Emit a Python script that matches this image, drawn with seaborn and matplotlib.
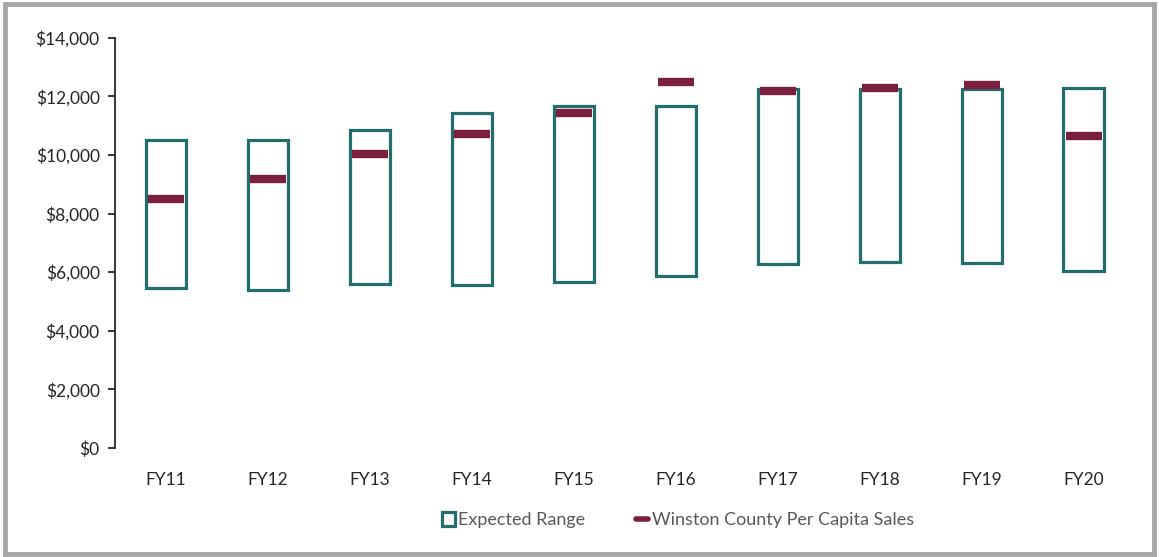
import seaborn as sns
import matplotlib.pyplot as plt
import pandas as pd
from matplotlib.patches import Patch, Rectangle
from matplotlib.lines import Line2D
from matplotlib.ticker import FuncFormatter

years = ["FY11", "FY12", "FY13", "FY14", "FY15", "FY16", "FY17", "FY18", "FY19", "FY20"]
range_low = [5450, 5390, 5590, 5560, 5670, 5880, 6280, 6350, 6300, 6050]
range_high = [10510, 10510, 10850, 11430, 11670, 11680, 12240, 12260, 12260, 12280]
county_sales = [8490, 9180, 10020, 10720, 11430, 12480, 12180, 12280, 12380, 10650]

teal = "#236d6d"
maroon = "#7a1f3d"
grey_text = "#595959"

df = pd.DataFrame({
    "year": years,
    "low": range_low,
    "span": [h - l for h, l in zip(range_high, range_low)],
    "sales": county_sales,
})

sns.set_style("white")
plt.rcParams["font.family"] = ["Lato", "DejaVu Sans"]

fig = plt.figure(figsize=(11.59, 5.57), dpi=100)
ax = fig.add_axes([0.0992, 0.196, 0.8800, 0.736])

sns.barplot(data=df, x="year", y="span", bottom=df["low"], width=0.4,
            color="white", edgecolor=teal, linewidth=2.3, ax=ax)
sns.scatterplot(data=df, x="year", y="sales", marker="_", s=650,
                linewidth=6, color=maroon, ax=ax, zorder=5, legend=False)

ax.set_xlim(-0.5, len(years) - 0.5)
ax.set_ylim(0, 14000)
ax.set_yticks(range(0, 14001, 2000))
ax.yaxis.set_major_formatter(FuncFormatter(lambda v, p: f"${v:,.0f}"))
ax.set_xlabel("")
ax.set_ylabel("")
sns.despine(ax=ax, bottom=True)
ax.spines["left"].set_color("#262626")
ax.spines["left"].set_linewidth(1.3)
ax.tick_params(axis="y", left=True, length=5, width=1.3, color="#262626",
               labelsize=12.5, labelcolor="#262626", pad=6)
ax.tick_params(axis="x", bottom=False, labelsize=12.5, labelcolor="#262626", pad=14)

handles = [
    Patch(facecolor="white", edgecolor=teal, linewidth=2.3),
    Line2D([0], [0], color=maroon, linewidth=4),
]
fig.legend(handles, ["Expected Range", "Winston County Per Capita Sales"],
           loc="center", bbox_to_anchor=(0.585, 0.066), ncol=2, frameon=False,
           fontsize=13, labelcolor=grey_text, handlelength=0.7, handleheight=0.8,
           handletextpad=0.2, columnspacing=2.8)

fig.patches.append(Rectangle((0.004, 0.006), 0.992, 0.987, transform=fig.transFigure,
                             fill=False, edgecolor="#a6a6a6", linewidth=3.5))

fig.savefig("out.png", dpi=100)
